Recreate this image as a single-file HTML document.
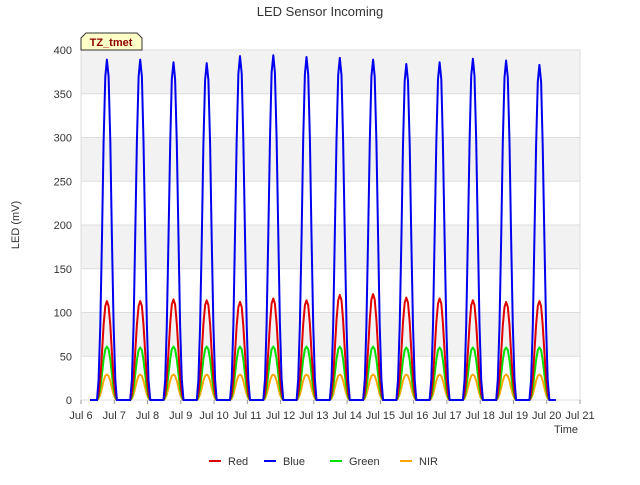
<!DOCTYPE html>
<html><head><meta charset="utf-8"><style>
body{margin:0;background:#fff;font-family:"Liberation Sans",sans-serif}
</style></head><body>
<svg id="c" width="640" height="480" xmlns="http://www.w3.org/2000/svg" font-family="Liberation Sans, sans-serif">
<text x="320" y="16" text-anchor="middle" font-size="13" fill="#333">LED Sensor Incoming</text>
<text transform="translate(19,225) rotate(-90)" text-anchor="middle" font-size="11" fill="#333">LED (mV)</text>
<text x="566" y="433" text-anchor="middle" font-size="11" fill="#333">Time</text>
<g id="grid"></g><g id="series"></g><g id="axes"></g>
<g>
<path d="M81,50 L81,38 L86,33 L137,33 L142,38 L142,50 Z" fill="#ffffc8" stroke="#333" stroke-width="1"/>
<text x="111" y="46" text-anchor="middle" font-size="11" font-weight="bold" fill="#8b0000">TZ_tmet</text>
</g>
<g id="legend"></g>
</svg>
<script>
const days=[6,7,8,9,10,11,12,13,14,15,16,17,18,19];
const bluePeaks=[389,389,386,385,393,394,392,391,389,384,386,390,388,383];
const redPeaks=[113,113,115,114,112,116,114,120,121,117,116,114,112,113];
const greenPeaks=[61,60,61,61,61,61,61,61,61,60,60,60,60,60];
const nirPeaks=[29,29,29,29,29,29,29,29,29,29,29,29,29,29];
const profOffsets=[0.27,0.48,0.53,0.58,0.63,0.68,0.73,0.78,0.83,0.88,0.93,0.98,1.03,1.08,1.27];
const profValues=[0,0,0.06,0.22,0.48,0.76,0.95,1,0.95,0.76,0.48,0.22,0.06,0,0];
const yTicks=[0,50,100,150,200,250,300,350,400];
const xTicks=[6,7,8,9,10,11,12,13,14,15,16,17,18,19,20,21];
const L=81,R=580,T=50,B=400,NS="http://www.w3.org/2000/svg";
const x=d=>L+(d-6)*(R-L)/15, y=v=>B-v*(B-T)/400;
function mk(t,a,p){const e=document.createElementNS(NS,t);for(const k in a)e.setAttribute(k,a[k]);p.appendChild(e);return e;}
const g=document.getElementById('grid');
for(let i=0;i<yTicks.length-1;i++){if(i%2===1){const r=mk('rect',{x:L,y:y(yTicks[i+1]),width:R-L,height:y(yTicks[i])-y(yTicks[i+1]),fill:'#f2f2f2'},g);

}}
yTicks.forEach(v=>{const l=mk('line',{x1:L,x2:R,y1:y(v),y2:y(v),stroke:'#ddd'},g);

});
mk('rect',{x:L,y:T,width:R-L,height:B-T,fill:'none',stroke:'#ddd'},g);
const ax=document.getElementById('axes');
yTicks.forEach(v=>{const t=mk('text',{x:L-9,y:y(v)+4,'text-anchor':'end','font-size':11,fill:'#333'},ax);t.textContent=v;

});
xTicks.forEach(d=>{const t=mk('text',{x:x(d),y:B+19,'text-anchor':'middle','font-size':11,fill:'#333'},ax);t.textContent='Jul '+d;


mk('line',{x1:x(d),x2:x(d),y1:B,y2:B+4,stroke:'#999'},ax);});
const sg=document.getElementById('series');
function draw(peaks,color,name){let pts=[];days.forEach((d,i)=>{profOffsets.forEach((o,j)=>{pts.push(x(d+o).toFixed(1)+','+y(peaks[i]*profValues[j]).toFixed(1));});});
const p=mk('polyline',{points:pts.join(' '),fill:'none',stroke:color,'stroke-width':2,'stroke-linejoin':'round'},sg);

}
draw(nirPeaks,'#ffa500','nir-line');draw(greenPeaks,'#00e000','green-line');draw(redPeaks,'#e00000','red-line');draw(bluePeaks,'#0000ee','blue-line');
const lg=document.getElementById('legend');
[['Red','#e00000',209],['Blue','#0000ee',264],['Green','#00e000',330],['NIR','#ffa500',400]].forEach(([n,c,lx])=>{
const e=mk('g',{},lg);


mk('line',{x1:lx,x2:lx+12,y1:461,y2:461,stroke:c,'stroke-width':2},e);
const t=mk('text',{x:lx+19,y:465,'font-size':11,fill:'#333'},e);t.textContent=n;});
</script>
</body></html>
